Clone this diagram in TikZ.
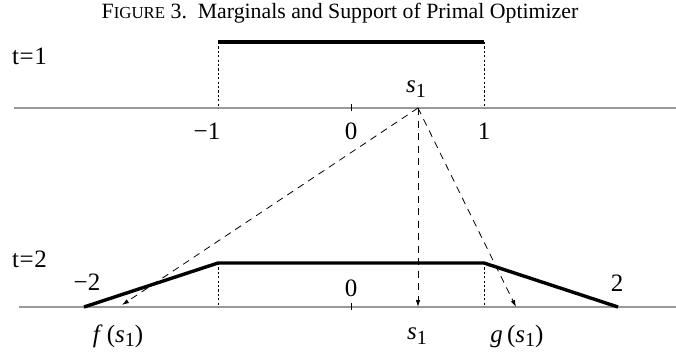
\documentclass[tikz,border=0pt]{standalone}
\usepackage{fontspec}
\setmainfont{Liberation Serif}
\usetikzlibrary{arrows.meta,positioning}
\newcommand{\sone}{\textit{s}\raisebox{-0.4ex}{\scalebox{0.8}{1}}}
\begin{document}
\begin{tikzpicture}[
    x=1pt, y=1pt,
    every node/.style={font=\fontsize{25}{28}\selectfont, inner sep=0pt},
    axis/.style={draw=gray!80, line width=1.2pt},
    support/.style={line width=3.4pt},
    guide/.style={line width=0.9pt, dash pattern=on 2.2pt off 2.2pt},
    map/.style={-{Latex[length=7pt, width=4.5pt]}, line width=0.8pt, dash pattern=on 7pt off 5.5pt}
]
\useasboundingbox (0,0) rectangle (676,354);
\node (title) at (340,341) {\fontsize{21.8}{24}\selectfont F{\fontsize{16.8}{18}\selectfont IGURE} 3.\ \ Marginals and Support of Primal Optimizer};
% t=1
\node[anchor=west] (tone) at (12,298) {t\kern0.5pt=\kern0.5pt1};
\coordinate (al) at (14,246);
\coordinate (ar) at (676,246);
\draw[axis] (al) -- (ar);
\coordinate (ua) at (218,312);
\coordinate (ub) at (484,312);
\coordinate (uc) at (218,246);
\coordinate (ud) at (484,246);
\draw[guide] (ua) -- (uc);
\draw[guide] (ub) -- (ud);
\draw[support] (ua) -- (ub);
\draw[line width=0.8pt] (351,243) -- (351,250);
\node (mone) at (207,223) {−1};
\node (zero) at (351,223) {0};
\node (one) at (484,223) {1};
\coordinate (sa) at (418,246);
\node (slab) at (416,265) {\sone};
% t=2
\node[anchor=west] (ttwo) at (12,95) {t\kern0.5pt=\kern0.5pt2};
\coordinate (bl) at (19,47);
\coordinate (br) at (676,47);
\draw[axis] (bl) -- (br);
\coordinate (va) at (84,47);
\coordinate (vb) at (218,91);
\coordinate (vc) at (484,91);
\coordinate (vd) at (618,47);
\draw[guide] (vb) -- (218,47);
\draw[guide] (vc) -- (484,47);
\draw[support, line join=miter] (va) -- (vb) -- (vc) -- (vd);
\draw[line width=0.8pt] (351,44) -- (351,51);
\node (mtwo) at (87,72) {−2};
\node (zerob) at (351,66) {0};
\node (two) at (617,71) {2};
\coordinate (fs) at (122,49);
\coordinate (sb) at (418,47);
\coordinate (gs) at (516,47);
\draw[map] (sa) -- (fs);
\draw[map] (sa) -- (sb);
\draw[map] (sa) -- (gs);
\node (flab) at (118,18) {\textit{f}\,(\sone)};
\node (sblab) at (417,18) {\sone};
\node (glab) at (517,18) {\textit{g}\,(\sone)};
\end{tikzpicture}
\end{document}
